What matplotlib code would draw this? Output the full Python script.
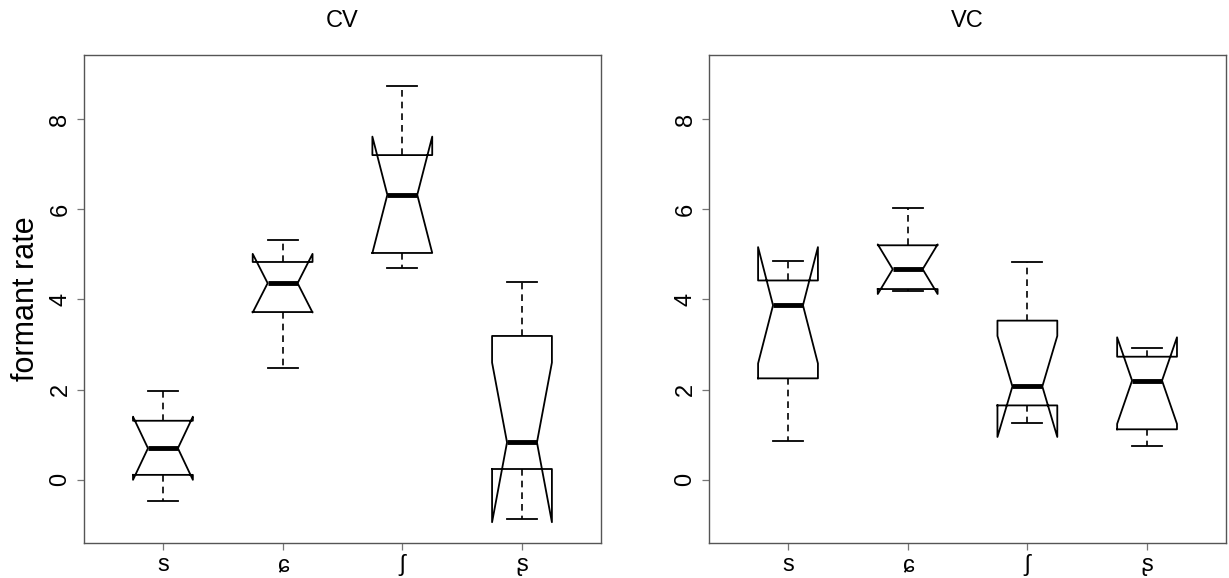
import numpy as np
import matplotlib
matplotlib.use("Agg")
import matplotlib.pyplot as plt

plt.rcParams['font.family'] = ['Liberation Sans', 'DejaVu Sans']

sounds = ['s', 'ɕ', 'ʃ', 'ʂ']

# CV context: whisker ends, hinges, medians, notch half-widths
cv_lo = [-0.47, 2.49, 4.70, -0.87]
cv_q1 = [0.11, 3.72, 5.03, 0.24]
cv_med = [0.70, 4.36, 6.32, 0.83]
cv_q3 = [1.31, 4.83, 7.20, 3.19]
cv_hi = [1.97, 5.31, 8.74, 4.38]
cv_notch = [0.70, 0.65, 1.29, 1.77]

# VC context
vc_lo = [0.85, 4.18, 1.25, 0.74]
vc_q1 = [2.25, 4.23, 1.65, 1.12]
vc_med = [3.87, 4.67, 2.07, 2.20]
vc_q3 = [4.42, 5.20, 3.53, 2.73]
vc_hi = [4.85, 6.02, 4.84, 2.93]
vc_notch = [1.29, 0.55, 1.12, 0.96]


def make_stats(lo, q1, med, q3, hi, notch):
    stats = []
    for i in range(len(med)):
        stats.append(dict(whislo=lo[i], q1=q1[i], med=med[i], q3=q3[i], whishi=hi[i],
                          cilo=med[i] - notch[i], cihi=med[i] + notch[i], fliers=[]))
    return stats


fig = plt.figure(figsize=(12.29, 5.78), dpi=100)
ax1 = fig.add_axes([0.0683, 0.0606, 0.4207, 0.8443])
ax2 = fig.add_axes([0.5769, 0.0606, 0.4207, 0.8443])

panels = [(ax1, 'CV', make_stats(cv_lo, cv_q1, cv_med, cv_q3, cv_hi, cv_notch)),
          (ax2, 'VC', make_stats(vc_lo, vc_q1, vc_med, vc_q3, vc_hi, vc_notch))]

for ax, title, stats in panels:
    ax.bxp(stats, positions=[1, 2, 3, 4], widths=0.5, shownotches=True,
           boxprops=dict(color='black', linewidth=1.3),
           medianprops=dict(color='black', linewidth=3.5, solid_capstyle='butt'),
           whiskerprops=dict(color='black', linewidth=1.2, linestyle=(0, (4, 3))),
           capprops=dict(color='black', linewidth=1.3),
           showfliers=False)
    ax.set_xlim(0.34, 4.66)
    ax.set_ylim(-1.40, 9.42)
    ax.set_yticks([0, 2, 4, 6, 8])
    ax.set_xticks([1, 2, 3, 4])
    ax.set_xticklabels(sounds)
    ax.set_title(title, fontsize=17, pad=20)
    for sp in ax.spines.values():
        sp.set_color('#555555')
        sp.set_linewidth(1.0)
    ax.tick_params(axis='both', direction='out', length=5, width=0.9, color='#777777',
                   labelsize=17)
    ax.tick_params(axis='y', labelrotation=90, pad=4)
    ax.tick_params(axis='x', pad=3)
    for lab in ax.get_yticklabels():
        lab.set_va('center')

ax1.set_ylabel('formant rate', fontsize=22, labelpad=6)

fig.savefig('out.png', dpi=100)
